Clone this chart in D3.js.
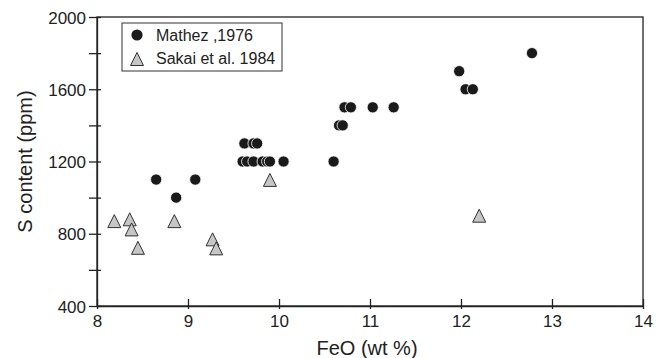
<!DOCTYPE html>
<html>
<head>
<meta charset="utf-8">
<script src="https://cdn.jsdelivr.net/npm/d3@7"></script>
<style>
  body { margin: 0; background: #fff; }
  text { font-family: "Liberation Sans", Arial, sans-serif; fill: #222; }
  .axis path, .axis line { stroke: #222; stroke-width: 1.3; }
</style>
</head>
<body>
<div id="chart"></div>
<script>
// Mathez, 1976
var mathezFeO = [8.65, 8.87, 9.08, 9.60, 9.65, 9.72, 9.82, 9.87, 9.90, 10.05, 9.62, 9.72, 9.76,
                 10.60, 10.66, 10.70, 10.72, 10.79, 11.03, 11.26, 11.98, 12.05, 12.13, 12.78];
var mathezS = [1100, 1000, 1100, 1200, 1200, 1200, 1200, 1200, 1200, 1200, 1300, 1300, 1300,
               1200, 1400, 1400, 1500, 1500, 1500, 1500, 1700, 1600, 1600, 1800];
// Sakai et al. 1984
var sakaiFeO = [8.19, 8.36, 8.38, 8.45, 8.85, 9.27, 9.31, 9.90, 12.20];
var sakaiS = [870, 880, 824, 722, 870, 769, 719, 1098, 900];

var xTicks = [8, 9, 10, 11, 12, 13, 14];
var yTicks = [400, 600, 800, 1000, 1200, 1400, 1600, 1800, 2000];
var legendLabels = ["Mathez ,1976", "Sakai et al. 1984"];

var myApp = {};
myApp.margins = {top: 17, bottom: 52, left: 97, right: 14};
myApp.w = 657;
myApp.h = 358;
myApp.cw = myApp.w - myApp.margins.left - myApp.margins.right;
myApp.ch = myApp.h - myApp.margins.top - myApp.margins.bottom;

// triangle marker, centred on its bounding box
myApp.triangle = function (s) {
    var p = d3.path();
    p.moveTo(0, -s / 2);
    p.lineTo(s / 2, s / 2);
    p.lineTo(-s / 2, s / 2);
    p.closePath();
    return p.toString();
}

myApp.run = function () {
    var svg = d3.select("#chart").append("svg")
        .attr("width", myApp.w)
        .attr("height", myApp.h);

    var g = svg.append("g")
        .attr("transform", "translate(" + myApp.margins.left + "," + myApp.margins.top + ")");

    var x = d3.scaleLinear().domain([8, 14]).range([0, myApp.cw]);
    var y = d3.scaleLinear().domain([400, 2000]).range([myApp.ch, 0]);

    // frame (top + right)
    g.append("rect")
        .attr("width", myApp.cw)
        .attr("height", myApp.ch)
        .attr("fill", "none")
        .attr("stroke", "#222")
        .attr("stroke-width", 1.3);

    var xAxis = g.append("g")
        .attr("class", "axis")
        .attr("transform", "translate(0," + myApp.ch + ")")
        .call(d3.axisBottom(x).tickValues(xTicks).tickFormat(d3.format("d")).tickSizeOuter(0));
    xAxis.selectAll(".tick line").attr("y1", 3).attr("y2", -7);
    xAxis.selectAll(".tick text").attr("y", 9).attr("font-size", 17).attr("dy", "0.71em");

    var yAxis = g.append("g")
        .attr("class", "axis")
        .call(d3.axisLeft(y).tickValues(yTicks)
            .tickFormat(function (d) { return d % 400 === 0 ? d : ""; })
            .tickSizeOuter(0));
    yAxis.selectAll(".tick line").attr("x1", -8).attr("x2", 4);
    yAxis.selectAll(".tick text").attr("x", -11).attr("font-size", 17).attr("dy", "0.36em");
    svg.selectAll(".axis .domain").attr("stroke", "#222");
    svg.selectAll(".axis text").attr("fill", "#222").attr("font-family", "Liberation Sans, Arial, sans-serif");

    // axis titles
    svg.append("text")
        .attr("x", myApp.margins.left + x(11) - 3)
        .attr("y", 355)
        .attr("text-anchor", "middle")
        .attr("font-size", 20)
        .text("FeO (wt %)");
    svg.append("text")
        .attr("transform", "translate(32," + (myApp.margins.top + y(1200)) + ") rotate(-90)")
        .attr("text-anchor", "middle")
        .attr("font-size", 20)
        .text("S content (ppm)");

    // Sakai triangles
    g.append("g").selectAll("path")
        .data(d3.range(sakaiFeO.length))
        .enter().append("path")
        .attr("d", myApp.triangle(13))
        .attr("transform", function (i) { return "translate(" + x(sakaiFeO[i]) + "," + y(sakaiS[i]) + ")"; })
        .attr("fill", "#c6c6c6")
        .attr("stroke", "#333")
        .attr("stroke-width", 1);

    // Mathez circles
    g.append("g").selectAll("circle")
        .data(d3.range(mathezFeO.length))
        .enter().append("circle")
        .attr("cx", function (i) { return x(mathezFeO[i]); })
        .attr("cy", function (i) { return y(mathezS[i]); })
        .attr("r", 5.6)
        .attr("fill", "#1a1a1a")
        .attr("stroke", "#fff")
        .attr("stroke-width", 0.8);

    // legend
    var lg = svg.append("g").attr("transform", "translate(122,23)");
    lg.append("rect")
        .attr("width", 160)
        .attr("height", 48)
        .attr("fill", "#fff")
        .attr("stroke", "#333")
        .attr("stroke-width", 1);
    lg.append("circle")
        .attr("cx", 15).attr("cy", 12).attr("r", 5.6)
        .attr("fill", "#1a1a1a");
    lg.append("path")
        .attr("d", myApp.triangle(13))
        .attr("transform", "translate(15,36)")
        .attr("fill", "#c6c6c6")
        .attr("stroke", "#333");
    lg.selectAll("text.lab")
        .data(legendLabels)
        .enter().append("text")
        .attr("class", "lab")
        .attr("x", 34)
        .attr("y", function (d, i) { return 18 + i * 23; })
        .attr("font-size", 16)
        .text(function (d) { return d; });
}

window.onload = myApp.run;
</script>
</body>
</html>
